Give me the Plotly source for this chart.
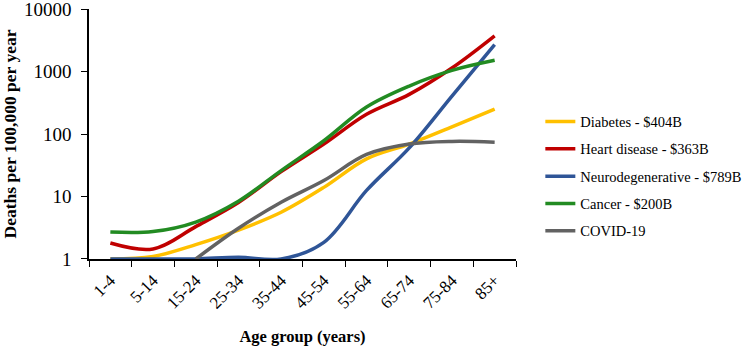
import plotly.graph_objects as go

categories = ["1-4", "5-14", "15-24", "25-34", "35-44", "45-54", "55-64", "65-74", "75-84", "85+"]
diabetes = [1.0, 1.1, 1.7, 2.9, 5.6, 14, 40, 69, 130, 250]
heart = [1.8, 1.45, 3.3, 8.0, 25, 69, 207, 431, 1140, 3730]
neuro = [1.0, 1.0, 1.0, 1.07, 1.0, 1.85, 12.5, 60, 405, 2690]
cancer = [2.7, 2.75, 3.9, 8.4, 26, 78, 270, 585, 1040, 1510]
covid = [None, None, 1.0, 3.1, 8.1, 18, 47, 69, 76, 74]

series_names = ["Diabetes - $404B", "Heart disease - $363B", "Neurodegenerative - $789B",
                "Cancer - $200B", "COVID-19"]
series_values = [diabetes, heart, neuro, cancer, covid]
colors = ["#FFC000", "#C00000", "#2F5597", "#228B22", "#626262"]

y_tickvals = [1, 10, 100, 1000, 10000]
y_ticktext = ["1", "10", "100", "1000", "10000"]

FONT = "Liberation Serif, 'Times New Roman', serif"

fig = go.Figure()
for i, (name, vals, col) in enumerate(zip(series_names, series_values, colors)):
    fig.add_trace(go.Scatter(
        x=categories, y=vals, name=name, mode="lines",
        line=dict(color=col, width=3.5, shape="spline", smoothing=1.0),
        legendgroup=f"g{i}",
        connectgaps=False,
    ))

fig.update_layout(
    width=749, height=346,
    margin=dict(l=89, r=233, t=9, b=87, autoexpand=False),
    paper_bgcolor="white", plot_bgcolor="white",
    font=dict(family=FONT, color="black"),
    showlegend=True,
    legend=dict(
        x=1.057, xanchor="left", y=0.33, yanchor="middle",
        font=dict(family=FONT, size=14.5, color="black"),
        traceorder="grouped", tracegroupgap=5.5,
        bgcolor="rgba(0,0,0,0)",
        itemwidth=30,
    ),
    xaxis=dict(
        type="category",
        range=[-0.5, 9.5],
        automargin=False,
        showline=True, linecolor="black", linewidth=1.5,
        ticks="outside", ticklen=6, tickcolor="black", tickwidth=1,
        tickson="boundaries",
        tickangle=-45,
        ticklabelstandoff=3,
        tickfont=dict(family=FONT, size=17, color="black"),
        showgrid=False, zeroline=False,
        title=dict(text="<b>Age group (years)</b>",
                   font=dict(family=FONT, size=16.5, color="black"),
                   standoff=20),
    ),
    yaxis=dict(
        type="log",
        range=[-0.0001, 4.0001],
        automargin=False,
        tickvals=y_tickvals, ticktext=y_ticktext,
        ticklabeloverflow="allow",
        showline=True, linecolor="black", linewidth=1.5,
        ticks="outside", ticklen=6, tickcolor="black", tickwidth=1,
        ticklabelstandoff=6,
        tickfont=dict(family=FONT, size=19, color="black"),
        showgrid=False, zeroline=False,
        title=dict(text="<b>Deaths per 100,000 per year</b>",
                   font=dict(family=FONT, size=17.5, color="black"),
                   standoff=12),
    ),
)

fig.write_html("out.html", config={"displayModeBar": False},
               post_script="document.body.style.margin='0';")
